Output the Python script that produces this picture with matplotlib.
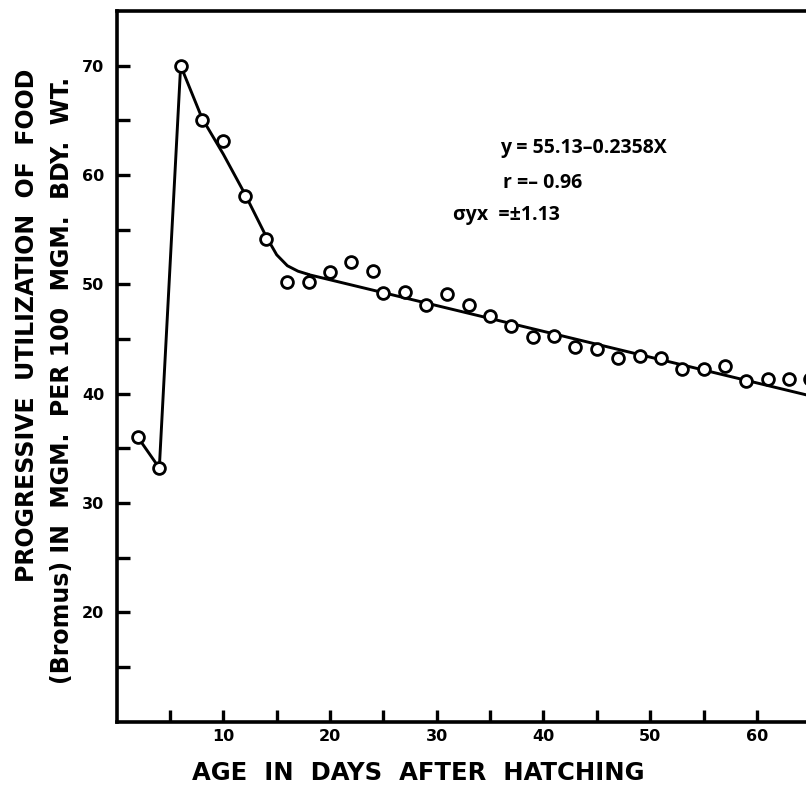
import matplotlib
matplotlib.use('Agg')
import matplotlib.pyplot as plt
import numpy as np

# observed points: age (days) vs food utilization (mgm per 100 mgm body wt.)
age = [2, 4, 6, 8, 10, 12, 14, 16, 18, 20, 22, 24, 25, 27, 29, 31, 33,
       35, 37, 39, 41, 43, 45, 47, 49, 51, 53, 55, 57, 59, 61, 63, 65]
util = [36.0, 33.2, 70.0, 65.0, 63.1, 58.1, 54.1, 50.2, 50.2, 51.1, 52.0, 51.2, 49.2,
        49.3, 48.1, 49.1, 48.1, 47.1, 46.2, 45.2, 45.3, 44.3, 44.1, 43.3, 43.4,
        43.3, 42.3, 42.3, 42.5, 41.2, 41.3, 41.3, 41.3]

# hand-drawn curve up to where it joins the fitted line
curve_x = [2, 4, 6, 8, 10, 12, 14, 15, 16, 17, 18]
curve_y = [36.0, 33.2, 70.0, 65.2, 61.9, 58.3, 54.4, 52.7, 51.7, 51.2, 50.9]

# fitted regression  y = 55.13 - 0.2358 x
intercept = 55.13
slope = -0.2358
fit_x = [18, 66]

x_major = [10, 20, 30, 40, 50, 60]
x_minor = [5, 15, 25, 35, 45, 55]
y_major = [20, 30, 40, 50, 60, 70]
y_minor = [15, 25, 35, 45, 55, 65]

plt.rcParams['font.family'] = ['DejaVu Sans']
plt.rcParams['font.weight'] = 'bold'

fig = plt.figure(figsize=(8.06, 7.89), dpi=100)
ax = fig.add_axes([0.1447, 0.0853, 0.8553, 0.9008])

fit_y = [intercept + slope * v for v in fit_x]
ax.plot(curve_x, curve_y, color='black', lw=2.1, solid_capstyle='round')
ax.plot(fit_x, fit_y, color='black', lw=2.1)
ax.plot(age, util, 'o', ms=8.5, mfc='white', mec='black', mew=2.0, zorder=3)

ax.set_xlim(0, 64.6)
ax.set_ylim(10, 75)

ax.set_xticks(x_major)
ax.set_xticks(x_minor, minor=True)
ax.set_yticks(y_major)
ax.set_yticks(y_minor, minor=True)
ax.tick_params(which='both', direction='in', length=9, width=2.4, colors='black',
               labelsize=11.5, pad=5)
ax.tick_params(axis='y', pad=9)

for s in ['left', 'bottom', 'top']:
    ax.spines[s].set_linewidth(2.6)
ax.spines['right'].set_visible(False)

eq_kw = dict(transform=ax.transAxes, fontsize=14, fontweight='bold', va='center',
             family=['Open Sans', 'DejaVu Sans'])
ax.text(0.556, 0.807, 'y = 55.13\u20130.2358X', **eq_kw)
ax.text(0.56, 0.758, 'r =\u2013 0.96', **eq_kw)
ax.text(0.488, 0.713, '\u03c3yx  =\u00b11.13', **eq_kw)

fig.text(0.519, 0.020, 'AGE  IN  DAYS  AFTER  HATCHING', ha='center', va='center',
         fontsize=17.5, fontweight='bold')
fig.text(0.034, 0.588, 'PROGRESSIVE  UTILIZATION  OF  FOOD', rotation=90,
         ha='center', va='center', fontsize=17, fontweight='bold')
fig.text(0.077, 0.518, '(Bromus) IN  MGM.  PER 100  MGM.  BDY.  WT.', rotation=90,
         ha='center', va='center', fontsize=17, fontweight='bold')

fig.savefig('out.png', dpi=100)
